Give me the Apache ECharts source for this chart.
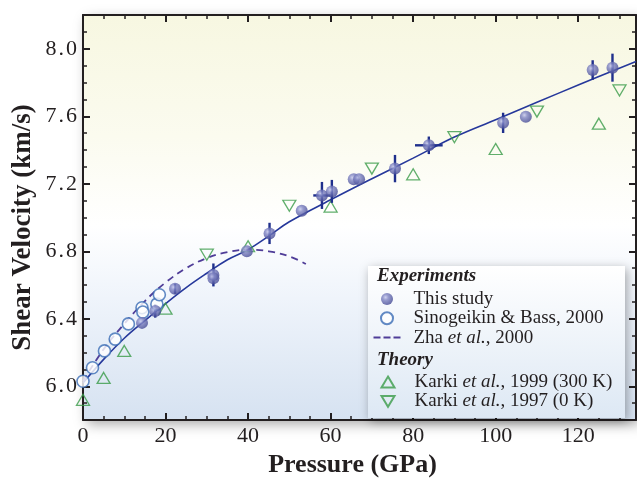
<!DOCTYPE html>
<html>
<head>
<meta charset="utf-8">
<script src="https://cdn.jsdelivr.net/npm/echarts@6/dist/echarts.min.js"></script>
<style>html,body{margin:0;padding:0;background:#fff;}#c{width:637px;height:483px;}</style>
</head>
<body>
<div id="c"></div>
<script>
// ---- data ----
var studyP    = [14.3, 17.5, 22.3, 31.6, 31.6, 39.7, 45.2, 53.0, 57.9, 60.3, 65.6, 66.9, 75.6, 83.8, 101.8, 107.3, 123.5, 128.3];
var studyV    = [6.376, 6.447, 6.578, 6.66, 6.64, 6.80, 6.906, 7.04, 7.131, 7.155, 7.227, 7.227, 7.29, 7.428, 7.561, 7.597, 7.874, 7.888];
var studyErrV = [0, 0.04, 0.03, 0.068, 0, 0, 0.063, 0, 0.08, 0.068, 0, 0, 0.081, 0.052, 0.06, 0, 0.058, 0.083];
var studyErrP = [0, 0, 0, 0, 0, 0, 0, 0, 2.1, 0, 0, 0, 0, 3.35, 0, 0, 0, 0];

var sinoP = [0, 2.3, 5.2, 7.8, 11.0, 14.3, 14.5, 17.9, 18.5];
var sinoV = [6.03, 6.11, 6.21, 6.28, 6.37, 6.466, 6.44, 6.487, 6.543];

var zhaP = [0, 5, 10, 15, 20, 25, 30, 35, 40, 45, 50, 54];
var zhaV = [6.03, 6.22, 6.37, 6.505, 6.615, 6.70, 6.76, 6.795, 6.81, 6.80, 6.77, 6.725];

var k300P = [0, 5, 10, 20, 40, 60, 80, 100, 125];
var k300V = [5.92, 6.05, 6.21, 6.46, 6.83, 7.065, 7.256, 7.406, 7.556];

var k0P = [30, 50, 70, 90, 110, 130];
var k0V = [6.78, 7.07, 7.29, 7.476, 7.628, 7.753];

var fitP = [0, 5, 10, 15, 20, 25, 30, 35, 40, 45, 50, 60, 70, 80, 90, 100, 110, 120, 134];
var fitV = [6.02, 6.16, 6.285, 6.39, 6.49, 6.585, 6.67, 6.75, 6.81, 6.89, 6.975, 7.105, 7.23, 7.352, 7.477, 7.58, 7.683, 7.785, 7.925];

var xMajor = [0, 20, 40, 60, 80, 100, 120];
var yMajor = [6.0, 6.4, 6.8, 7.2, 7.6, 8.0];

// ---- helpers ----
function pairs(a, b) { return a.map(function (v, i) { return [v, b[i]]; }); }
var FF = "'Liberation Serif','Times New Roman',serif";
var INK = '#231f20';
var TRI_UP = 'path://M5,0 L10,8.66 L0,8.66 Z';
var TRI_DOWN = 'path://M0,0 L10,0 L5,8.66 Z';
// legend icons laid out in a 27 x 12 box so they sit centred like the circles
var TRI_UP_ICON = 'path://M0,0 M27,12 M13.5,0.6 L20,11.4 L7,11.4 Z';
var TRI_DOWN_ICON = 'path://M0,0 M27,12 M7,0.6 L20,0.6 L13.5,11.4 Z';
var DASH_ICON = 'path://M0,0h7v2h-7zM10,0h7v2h-7zM20,0h7v2h-7z';
var names = {
  study: 'This study',
  sino: 'Sinogeikin & Bass, 2000',
  zha: 'Zha et al., 2000',
  k300: 'Karki et al., 1999 (300 K)',
  k0: 'Karki et al., 1997 (0 K)'
};
function legendFmt(name) {
  var idx = name.indexOf('et al.');
  if (idx < 0) return '{n|' + name + '}';
  return '{n|' + name.slice(0, idx) + '}{i|et al.}{n|' + name.slice(idx + 6) + '}';
}
var legendText = {
  fontFamily: FF, fontSize: 19, lineHeight: 19, color: INK, padding: [0, 0, 0, 8],
  rich: {
    n: { fontFamily: FF, fontSize: 19, lineHeight: 19, color: INK },
    i: { fontFamily: FF, fontSize: 19, lineHeight: 19, color: INK, fontStyle: 'italic' }
  }
};

var sphere = {
  type: 'radial', x: 0.38, y: 0.36, r: 0.66,
  colorStops: [{ offset: 0, color: '#c4c7ec' }, { offset: 0.35, color: '#7f84c3' }, { offset: 1, color: '#444994' }]
};

function majorAxis(pos, isX, withLabels) {
  return {
    type: 'value', position: pos, gridIndex: 0,
    min: isX ? 0 : 5.8, max: isX ? 134 : 8.2, interval: isX ? 20 : 0.2,
    axisLine: { show: true, onZero: false, lineStyle: { color: INK, width: 2 } },
    axisTick: { show: true, inside: true, length: 7, customValues: isX ? xMajor : yMajor, lineStyle: { color: INK, width: 2 } },
    axisLabel: withLabels ? {
      show: true, customValues: isX ? xMajor : yMajor, margin: isX ? 5 : 6,
      fontFamily: FF, fontSize: 22, color: INK,
      rich: {
        d: { fontFamily: FF, fontSize: 22, color: INK },
        p: { fontFamily: FF, fontSize: 22, color: INK, padding: [0, 2, 0, 2] }
      },
      formatter: isX ? function (v) { return String(v); } : function (v) {
        var s = Number(v).toFixed(1).split('.');
        return '{d|' + s[0] + '}{p|.}{d|' + s[1] + '}';
      }
    } : { show: false },
    splitLine: { show: false }
  };
}
function minorAxis(pos, isX) {
  return {
    type: 'value', position: pos, gridIndex: 0,
    min: isX ? 0 : 5.8, max: isX ? 134 : 8.2, interval: isX ? 5 : 0.1,
    axisLine: { show: false, onZero: false },
    axisTick: { show: true, inside: true, length: 4, lineStyle: { color: INK, width: 1.5 } },
    axisLabel: { show: false },
    splitLine: { show: false }
  };
}

var xA0 = majorAxis('bottom', true, true);
xA0.name = 'Pressure (GPa)';
xA0.nameLocation = 'middle';
xA0.nameGap = 27;
xA0.nameTextStyle = { fontFamily: FF, fontSize: 26, fontWeight: 'bold', color: INK, padding: [0, 14, 0, 0] };
var yA0 = majorAxis('left', false, true);
yA0.name = 'Shear Velocity (km/s)';
yA0.nameLocation = 'middle';
yA0.nameMoveOverlap = false;
yA0.nameGap = 46;
yA0.nameTextStyle = { fontFamily: FF, fontSize: 27, fontWeight: 'bold', color: INK, padding: [0, 20, 0, 0] };

var chart = echarts.init(document.getElementById('c'), null, { renderer: 'canvas' });
var option = {
  animation: false,
  backgroundColor: '#ffffff',
  grid: {
    left: 83, right: 1, top: 15, bottom: 54, show: true, borderWidth: 0,
    backgroundColor: {
      type: 'linear', x: 0, y: 0, x2: 0, y2: 1,
      colorStops: [
        { offset: 0, color: '#f7f7e1' },
        { offset: 0.3, color: '#fbfbef' },
        { offset: 0.52, color: '#ffffff' },
        { offset: 0.7, color: '#eff4fb' },
        { offset: 1, color: '#d6e2f1' }
      ]
    },
    shadowBlur: 12, shadowColor: 'rgba(0,0,0,0.35)', shadowOffsetX: 4, shadowOffsetY: 4
  },
  xAxis: [xA0, majorAxis('top', true, false), minorAxis('bottom', true), minorAxis('top', true)],
  yAxis: [yA0, majorAxis('right', false, false), minorAxis('left', false), minorAxis('right', false)],
  legend: [{
    data: [names.study, names.sino, { name: names.zha, icon: DASH_ICON }],
    orient: 'vertical', left: 373.5, top: 289.5, padding: 0, itemGap: 0.3,
    itemWidth: 27, itemHeight: 12, selectedMode: false, z: 10,
    formatter: legendFmt, textStyle: legendText
  }, {
    data: [{ name: names.k300, icon: TRI_UP_ICON }, { name: names.k0, icon: TRI_DOWN_ICON }],
    orient: 'vertical', left: 373.5, top: 372.5, padding: 0, itemGap: 0.3,
    itemWidth: 27, itemHeight: 12, selectedMode: false, z: 10,
    formatter: legendFmt, textStyle: legendText
  }],
  graphic: [{
    type: 'rect', z: 8, left: 368, top: 266,
    shape: { width: 257, height: 152 },
    style: {
      fill: {
        type: 'linear', x: 0, y: 0, x2: 0, y2: 1,
        colorStops: [{ offset: 0, color: '#ffffff' }, { offset: 1, color: '#dde8f4' }]
      },
      shadowBlur: 10, shadowColor: 'rgba(0,0,0,0.35)', shadowOffsetX: 2, shadowOffsetY: 3
    }
  }, {
    type: 'text', z: 10, left: 377, top: 267,
    style: { text: 'Experiments', fontFamily: FF, fontSize: 19, fontWeight: 'bold', fontStyle: 'italic', fill: INK }
  }, {
    type: 'text', z: 10, left: 377, top: 351,
    style: { text: 'Theory', fontFamily: FF, fontSize: 19, fontWeight: 'bold', fontStyle: 'italic', fill: INK }
  }],
  series: [{
    name: 'fit', type: 'line', data: pairs(fitP, fitV), smooth: 0.4, symbol: 'none',
    lineStyle: { color: '#26389b', width: 1.6 }, z: 2, silent: true
  }, {
    name: names.zha, type: 'line', data: pairs(zhaP, zhaV), smooth: 0.4, symbol: 'none', showSymbol: false,
    itemStyle: { color: '#4f3d98' },
    lineStyle: { color: '#4f3d98', width: 1.8, type: [7, 5] }, z: 2
  }, {
    name: names.k300, type: 'scatter', data: pairs(k300P, k300V), symbol: TRI_UP, symbolSize: [13, 11],
    itemStyle: { color: 'rgba(255,255,255,0)', borderColor: '#3a9b48', borderWidth: 1.3 }, z: 3
  }, {
    name: names.k0, type: 'scatter', data: pairs(k0P, k0V), symbol: TRI_DOWN, symbolSize: [13, 11],
    itemStyle: { color: 'rgba(255,255,255,0)', borderColor: '#3a9b48', borderWidth: 1.3 }, z: 3
  }, {
    name: 'errors', type: 'custom', z: 4, silent: true,
    data: studyP.map(function (p, i) { return [p, studyV[i], studyErrV[i], studyErrP[i]]; }),
    encode: { x: 0, y: 1 },
    renderItem: function (params, api) {
      var p = api.value(0), v = api.value(1), ev = api.value(2), ep = api.value(3);
      var ch = [];
      var st = { stroke: '#1f2f8c', lineWidth: 2.4 };
      if (ev > 0) {
        var a = api.coord([p, v - ev]), b = api.coord([p, v + ev]);
        ch.push({ type: 'line', shape: { x1: a[0], y1: a[1], x2: b[0], y2: b[1] }, style: st });
      }
      if (ep > 0) {
        var c = api.coord([p - ep, v]), d = api.coord([p + ep, v]);
        ch.push({ type: 'line', shape: { x1: c[0], y1: c[1], x2: d[0], y2: d[1] }, style: st });
      }
      return { type: 'group', children: ch };
    }
  }, {
    name: names.sino, type: 'scatter', data: pairs(sinoP, sinoV), symbol: 'circle', symbolSize: 12,
    itemStyle: { color: '#ffffff', borderColor: '#3b6db5', borderWidth: 1.6 }, z: 5
  }, {
    name: names.study, type: 'scatter', data: pairs(studyP, studyV), symbol: 'circle', symbolSize: 12,
    itemStyle: { color: sphere }, z: 6
  }]
};
chart.setOption(option);
</script>
</body>
</html>
